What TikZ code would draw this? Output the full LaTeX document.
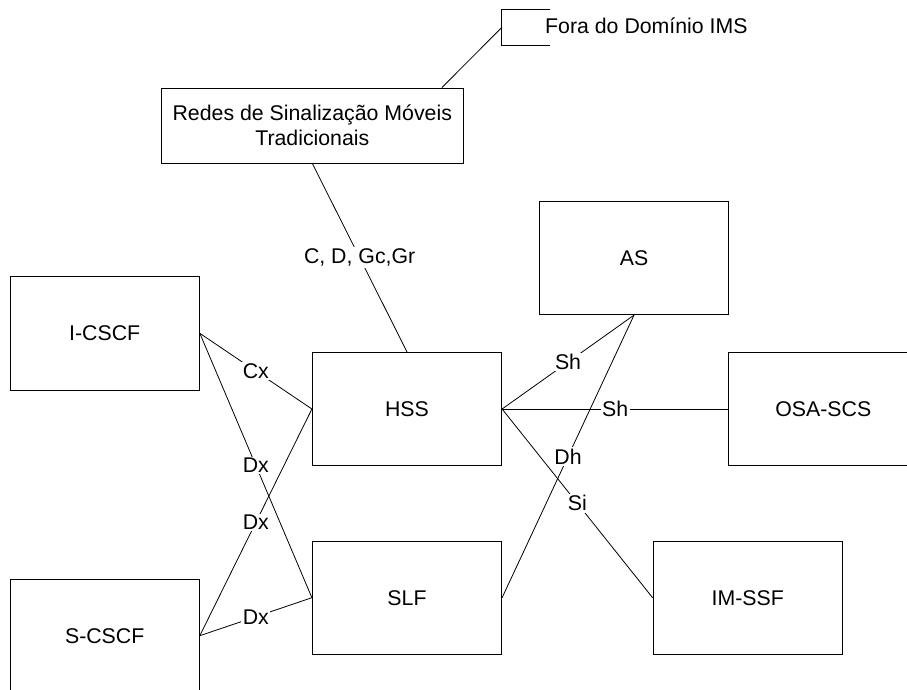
\documentclass[tikz,border=0pt]{standalone}
\usepackage{fontspec}
\setmainfont{Liberation Sans}
\usetikzlibrary{calc}
\begin{document}
\begin{tikzpicture}[x=1pt,y=-1pt,
  every node/.style={font=\fontsize{21.3}{24.5}\selectfont},
  entity/.style={draw, line width=0.9pt, minimum width=189.3pt, minimum height=113.3pt, inner sep=0pt, align=center},
  link/.style={line width=0.8pt},
  iface/.style={fill=white, inner sep=1.5pt}]
\useasboundingbox (0,0) rectangle (907,689);
\clip (0,0) rectangle (907,689);

% network entities
\node[entity] (icscf) at (104.7,333.3) {I-CSCF};
\node[entity] (scscf) at (104.7,635.7) {S-CSCF};
\node[entity] (hss)   at (407,409)     {HSS};
\node[entity] (slf)   at (407,597.7)   {SLF};
\node[entity] (as)    at (634,258)     {AS};
\node[entity] (osa)   at (823.3,409)   {OSA-SCS};
\node[entity] (imssf) at (747.7,597.7) {IM-SSF};
\node[entity, minimum width=301.3pt, minimum height=75pt] (redes) at (312.3,125.5)
  {Redes de Sinalização Móveis\\Tradicionais};

% outside-domain marker
\coordinate (fora) at (501.7,27.5);
\draw[link] (550,9.3) -- (501.7,9.3) -- (501.7,45.7) -- (550,45.7);
\node[anchor=base west, inner sep=0pt] (foratxt) at (545,33.3) {Fora do Domínio IMS};

\coordinate (redesup) at ($(redes.north west)!0.929!(redes.north east)$);
\draw[link] (redesup) -- (fora);

% interfaces
\draw[link] (redes.south) -- node[iface] {C, D, Gc,Gr} (hss.north);
\draw[link] (icscf.east) -- node[iface] {Cx} (hss.west);
\draw[link] (icscf.east) -- node[iface] {Dx} (slf.west);
\draw[link] (scscf.east) -- node[iface] {Dx} (hss.west);
\draw[link] (scscf.east) -- node[iface] {Dx} (slf.west);
\draw[link] (hss.east) -- node[iface] {Sh} (as.south);
\draw[link] (hss.east) -- node[iface] {Sh} (osa.west);
\draw[link] (hss.east) -- node[iface] {Si} (imssf.west);
\draw[link] (slf.east) -- node[iface] {Dh} (as.south);
\end{tikzpicture}
\end{document}
